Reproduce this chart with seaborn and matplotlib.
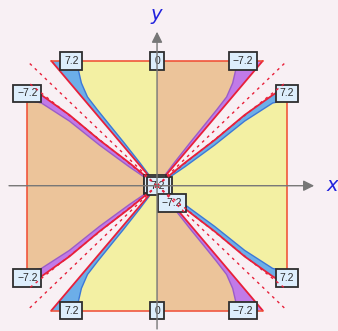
import numpy as np
import matplotlib.pyplot as plt
import seaborn as sns

sns.set_style("white")

# curves of the upper-left quarter (data units, square is [-1, 1] x [-1, 1])
# boundary yellow / blue
b_x = [-0.620, -0.605, -0.582, -0.535, -0.458, -0.358, -0.258, -0.131, 0.0]
b_y = [1.0, 0.927, 0.823, 0.711, 0.607, 0.478, 0.350, 0.182, 0.0]
# contour 7.2
rp_x = [-0.813, -0.41, 0.0]
rp_y = [1.0, 0.504, 0.0]
# contour -7.2
rm_x = [-1.0, -0.890, -0.674, -0.443, -0.212, 0.0]
rm_y = [0.799, 0.727, 0.567, 0.366, 0.182, 0.0]
# boundary purple / orange
p_x = [-1.0, -0.890, -0.674, -0.443, -0.212, 0.0]
p_y = [0.687, 0.663, 0.518, 0.326, 0.150, 0.0]
# dashed asymptotes (slopes)
dash_slopes = [1.0, 0.835]

# contour labels
lab_text = ["7.2", "\u22127.2", "0", "\u22127.2", "7.2",
            "\u22127.2", "7.2", "0", "\u22127.2", "7.2",
            "\u22127.2", "7.2", "7.2", "\u22127.2"]
lab_x = [-0.66, -0.998, 0.0, 0.66, 0.998,
         -0.998, -0.66, 0.0, 0.66, 0.998,
         0.005, -0.012, 0.008, 0.112]
lab_y = [1.0, 0.74, 1.0, 1.0, 0.74,
         -0.74, -1.0, -1.0, -1.0, -0.74,
         0.0, 0.012, -0.004, -0.139]

yellow = "#f3f0a3"
orange = "#ecc49a"
blue = "#6caee8"
purple = "#c17ae8"
blue_edge = "#3b78d8"
purple_edge = "#9a5cc8"
red = "#e8203a"
bg = "#f8f0f4"


def flip(xs, ys, sx, sy):
    return [sx * v for v in xs], [sy * v for v in ys]


fig = plt.figure(figsize=(3.38, 3.31), dpi=100, facecolor=bg)
ax = fig.add_axes([0, 0, 1, 1])
ax.set_facecolor(bg)
ax.set_xlim(-1.208, 1.392)
ax.set_ylim(-1.164, 1.488)
ax.axis("off")

for sx in [1, -1]:
    for sy in [1, -1]:
        bx, by = flip(b_x, b_y, sx, sy)
        rpx, rpy = flip(rp_x, rp_y, sx, sy)
        rmx, rmy = flip(rm_x, rm_y, sx, sy)
        px_, py_ = flip(p_x, p_y, sx, sy)
        left = sx == 1  # sx=1 keeps the left side
        # top / bottom region next to the y axis
        ax.fill(bx + [0], by + [sy], color=yellow if left else orange, lw=0)
        # wedge between b and +7.2
        ax.fill(bx + rpx[::-1], by + rpy[::-1], color=blue if left else purple, lw=0)
        # wedge between -7.2 and p
        ax.fill(rmx + px_[::-1], rmy + py_[::-1], color=purple if left else blue, lw=0)
        sns.lineplot(x=bx, y=by, sort=False, estimator=None, ax=ax,
                     color=blue_edge if left else purple_edge, lw=1)
        sns.lineplot(x=px_, y=py_, sort=False, estimator=None, ax=ax,
                     color=purple_edge if left else blue_edge, lw=1)
        sns.lineplot(x=rpx, y=rpy, sort=False, estimator=None, ax=ax, color=red, lw=1.3)
        sns.lineplot(x=rmx, y=rmy, sort=False, estimator=None, ax=ax, color=red, lw=1.3)

# side regions
for sx in [1, -1]:
    px_, py_ = flip(p_x, p_y, sx, 1)
    px2, py2 = flip(p_x, p_y, sx, -1)
    ax.fill(px_ + px2[::-1], py_ + py2[::-1], color=orange if sx == 1 else yellow, lw=0)

# outline of the square where it is filled
for s in [1, -1]:
    ax.plot([-abs(rp_x[0]), abs(rp_x[0])], [s, s], color="#f04a30", lw=1.1)
    ax.plot([s, s], [-rm_y[0], rm_y[0]], color="#f04a30", lw=1.1)

# labels
for t, x, y in zip(lab_text, lab_x, lab_y):
    ax.text(x, y, t, ha="center", va="center", fontsize=7.5, color="#2a2a2a",
            family="Liberation Sans", zorder=5,
            bbox=dict(boxstyle="square,pad=0.36", fc="#ddeefc", ec="#2e2e2e", lw=1.3))

# dashed asymptotes
for m in dash_slopes:
    for sx in [1, -1]:
        for sy in [1, -1]:
            ax.plot([0, sx], [0, sy * m], color=red, lw=1, ls=(0, (2, 3)), zorder=6)

# axes with arrows
ax.annotate("", xy=(1.23, 0), xytext=(-1.16, 0),
            arrowprops=dict(arrowstyle="-|>", color="#777777", lw=1, mutation_scale=16),
            zorder=7)
ax.annotate("", xy=(0, 1.256), xytext=(0, -1.17),
            arrowprops=dict(arrowstyle="-|>", color="#777777", lw=1, mutation_scale=16),
            zorder=7)
ax.text(1.35, 0.0, "x", color="#2222dd", fontsize=14, style="italic", ha="center", va="center")
ax.text(-0.01, 1.37, "y", color="#2222dd", fontsize=14, style="italic", ha="center", va="center")

fig.savefig("out.png", dpi=100, facecolor=bg)
